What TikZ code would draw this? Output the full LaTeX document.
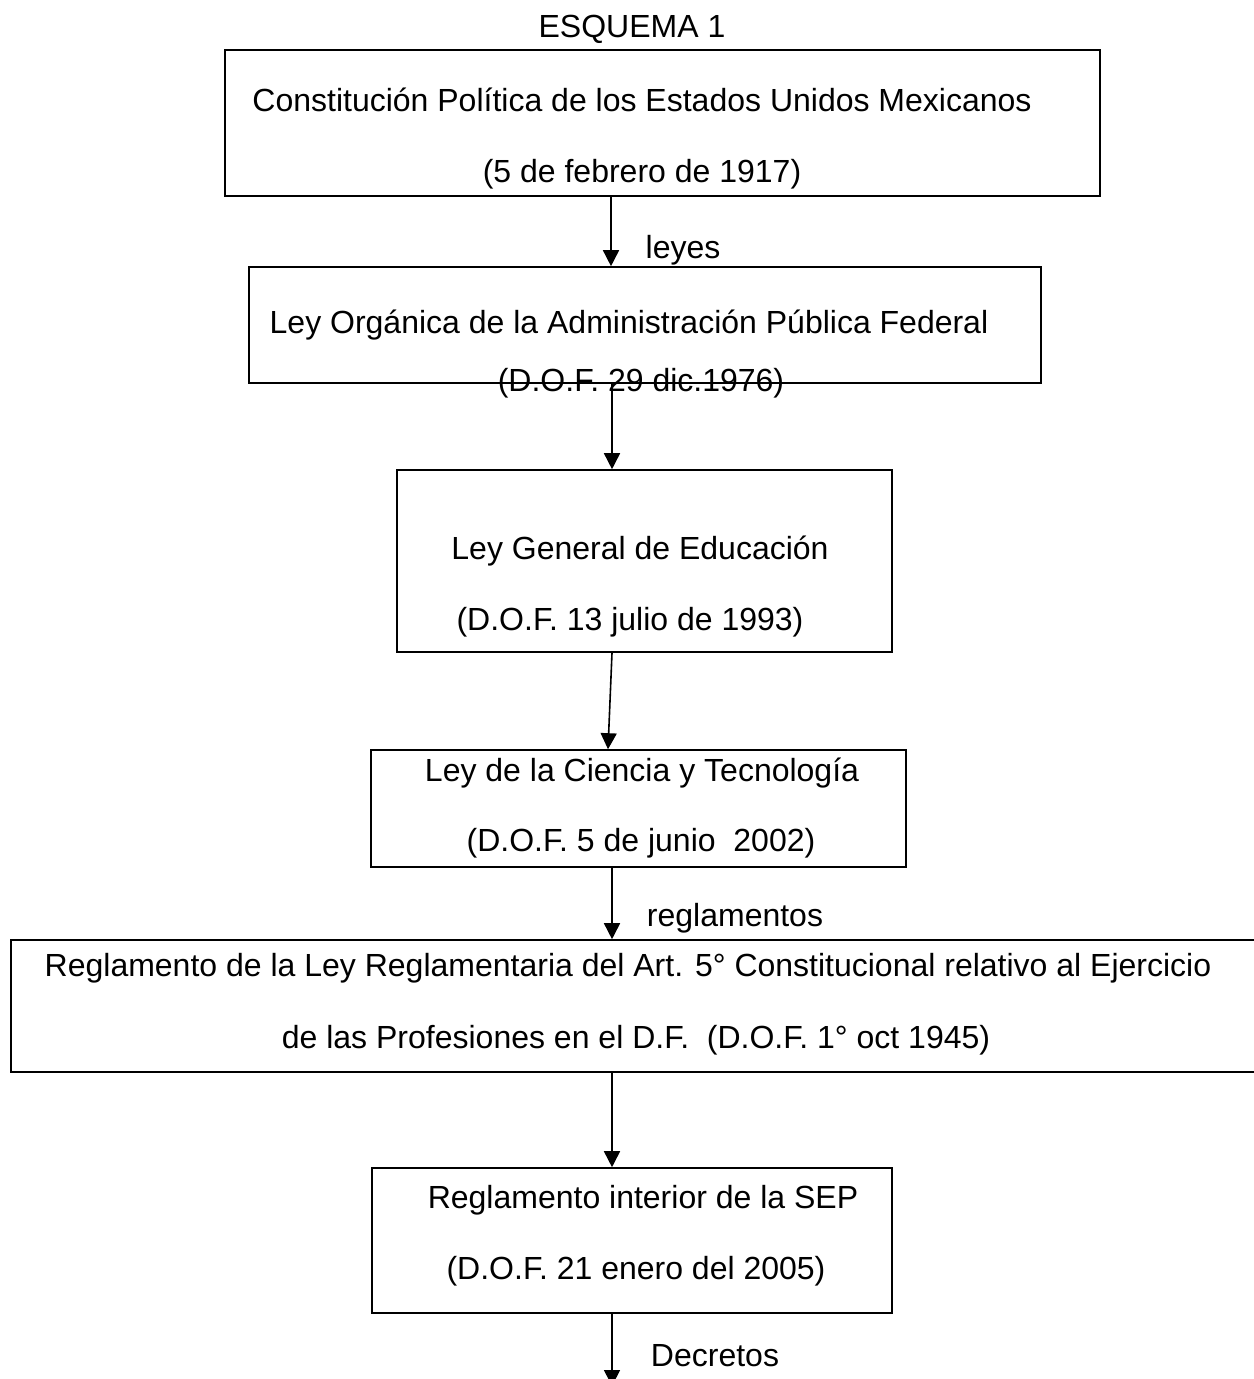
\documentclass[tikz,border=0pt]{standalone}
\usepackage{fontspec}
\setmainfont{Liberation Sans}
\usetikzlibrary{arrows.meta,fit}
\begin{document}
\begin{tikzpicture}[x=0.5pt,y=-0.5pt,
  box/.style={draw=black,line width=0.8pt,inner sep=0pt,fill=none},
  txt/.style={anchor=base,inner sep=0pt,font=\fontsize{16}{19}\selectfont},
  arr/.style={draw=black,line width=0.8pt,-{Triangle[length=8pt,width=8pt]}}]
\useasboundingbox (0,0) rectangle (1253,1379);
\fill[white] (0,0) rectangle (1253,1379);

\node[txt] (title) at (632,38) {ESQUEMA 1};

\node[box,fit={(225,50) (1100,196)}] (b1) {};
\node[txt] (t1a) at (642,112) {Constitución Política de los Estados Unidos Mexicanos};
\node[txt] (t1b) at (642,183) {(5 de febrero de 1917)};

\node[box,fit={(249,267) (1041,383)}] (b2) {};
\node[txt] (t2a) at (629,334) {Ley Orgánica de la Administración Pública Federal};
\node[txt] (t2b) at (641,392) {(D.O.F. 29 dic.1976)};

\node[box,fit={(397,470) (892,652)}] (b3) {};
\node[txt] (t3a) at (640,559) {Ley General de Educación};
\node[txt] (t3b) at (630,630) {(D.O.F. 13 julio de 1993)};

\node[box,fit={(371,750) (906,867)}] (b4) {};
\node[txt] (t4a) at (642,781) {Ley de la Ciencia y Tecnología};
\node[txt] (t4b) at (641,851) {(D.O.F. 5 de junio \ 2002)};

\node[box,fit={(11,940) (1275,1072)}] (b5) {};
\node[txt] (t5a) at (628,976) {Reglamento de la Ley Reglamentaria del Art. 5° Constitucional relativo al Ejercicio};
\node[txt] (t5b) at (636,1048) {de las Profesiones en el D.F. \ (D.O.F. 1° oct 1945)};

\node[box,fit={(372,1168) (892,1313)}] (b6) {};
\node[txt] (t6a) at (643,1208) {Reglamento interior de la SEP};
\node[txt] (t6b) at (636,1279) {(D.O.F. 21 enero del 2005)};

\coordinate (ax) at (611,0);
\coordinate (ax3) at (608,0);
\coordinate (ax2) at (612,0);
\coordinate (end) at (612,1386);

\draw[arr] (b1.south -| ax) -- (b2.north -| ax);
\draw[arr] (b2.south -| ax2) -- (b3.north -| ax2);
\draw[arr] (b3.south -| ax2) -- (b4.north -| ax3);
\draw[arr] (b4.south -| ax2) -- (b5.north -| ax2);
\draw[arr] (b5.south -| ax2) -- (b6.north -| ax2);
\draw[arr] (b6.south -| ax2) -- (end);

\node[txt] (l1) at (683,259) {leyes};
\node[txt] (l2) at (735,926) {reglamentos};
\node[txt] (l3) at (715,1366) {Decretos};
\end{tikzpicture}
\end{document}
